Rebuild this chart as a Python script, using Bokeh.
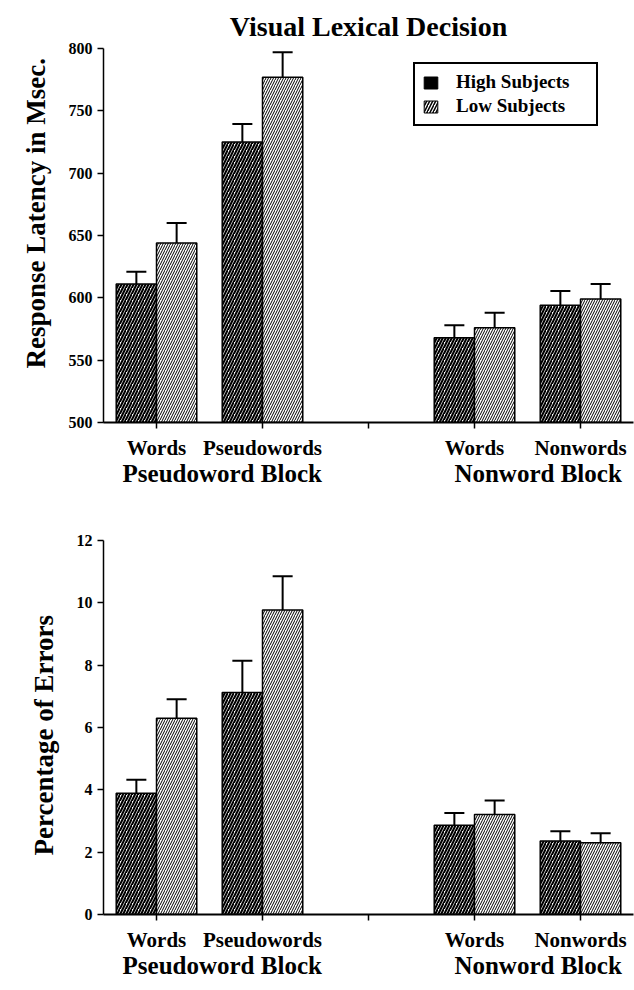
import numpy as np
from bokeh.plotting import figure
from bokeh.layouts import column
from bokeh.models import (ColumnDataSource, FixedTicker, LinearAxis, Whisker, TeeHead,
                          Legend, LegendItem, Title, Range1d)
from bokeh.embed import file_html
from bokeh.resources import INLINE

# ---------------- data ----------------
categories = ["Words", "Pseudowords", "Words", "Nonwords"]
slot_index = [0, 1, 3, 4]          # slot 2 is the empty gap between blocks
blocks = ["Pseudoword Block", "Nonword Block"]
series = ["High Subjects", "Low Subjects"]

rt_high = [611, 725, 568, 594]
rt_high_err = [10, 14.5, 10, 11.5]
rt_low = [644, 777, 576, 599]
rt_low_err = [16, 20, 12, 12]

pe_high = [3.89, 7.12, 2.86, 2.36]
pe_high_err = [0.43, 1.02, 0.40, 0.31]
pe_low = [6.30, 9.77, 3.21, 2.30]
pe_low_err = [0.61, 1.08, 0.45, 0.31]

rt_ticks = [500, 550, 600, 650, 700, 750, 800]
pe_ticks = [0, 2, 4, 6, 8, 10, 12]

# ---------------- styling ----------------
FONT = "Liberation Serif"
BAR_W = 0.38
N_SLOTS = 5
block_label_pos = [1.12, 4.1]


def style_bars(r, dark):
    g = r.glyph
    g.fill_color = "white"
    g.line_color = "black"
    g.line_width = 1.5
    g.hatch_pattern = "/"
    g.hatch_color = "black"
    g.hatch_scale = 6 if dark else 5
    g.hatch_weight = 2.1 if dark else 1.0


def make_panel(high, high_err, low, low_err, y0, y1, yticks, ylabel, ylabel_offset,
               border_top, border_bottom, title=None, legend=False):
    p = figure(frame_width=530, frame_height=374,
               x_range=Range1d(0, N_SLOTS), y_range=Range1d(y0, y1),
               min_border_left=103, min_border_right=1,
               min_border_top=border_top, min_border_bottom=border_bottom,
               output_backend="svg", toolbar_location=None)
    p.outline_line_color = None
    p.xgrid.visible = False
    p.ygrid.visible = False

    centers = [i + 0.5 for i in slot_index]
    xh = [c - BAR_W / 2 for c in centers]
    xl = [c + BAR_W / 2 for c in centers]
    src_h = ColumnDataSource(dict(x=xh, top=high, up=[t + e for t, e in zip(high, high_err)]))
    src_l = ColumnDataSource(dict(x=xl, top=low, up=[t + e for t, e in zip(low, low_err)]))

    rh = p.vbar(x="x", top="top", bottom=y0, width=BAR_W, source=src_h)
    rl = p.vbar(x="x", top="top", bottom=y0, width=BAR_W, source=src_l)
    style_bars(rh, True)
    style_bars(rl, False)

    for s in (src_h, src_l):
        w = Whisker(source=s, base="x", lower="top", upper="up", dimension="height",
                    line_color="black", line_width=2, lower_head=None,
                    upper_head=TeeHead(size=20, line_color="black", line_width=2))
        p.add_layout(w)

    # y axis
    ya = p.yaxis[0]
    ya.ticker = FixedTicker(ticks=yticks)
    ya.minor_tick_line_color = None
    ya.major_tick_in = 0
    ya.major_tick_out = 6
    ya.major_tick_line_width = 1.5
    ya.axis_line_width = 1.5
    ya.major_label_text_font = FONT
    ya.major_label_text_font_style = "bold"
    ya.major_label_text_font_size = "16px"
    ya.major_label_text_color = "black"
    ya.major_label_standoff = 5

    # x axis: category ticks
    all_ticks = [i + 0.5 for i in range(N_SLOTS)]
    overrides = {t: "" for t in all_ticks}
    for name, idx in zip(categories, slot_index):
        overrides[idx + 0.5] = name
    xa = p.xaxis[0]
    xa.ticker = FixedTicker(ticks=all_ticks)
    xa.major_label_overrides = overrides
    xa.minor_tick_line_color = None
    xa.major_tick_in = 0
    xa.major_tick_out = 6
    xa.major_tick_line_width = 1.5
    xa.axis_line_width = 2
    xa.major_label_text_font = FONT
    xa.major_label_text_font_style = "bold"
    xa.major_label_text_font_size = "21px"
    xa.major_label_text_color = "black"
    xa.major_label_standoff = 7

    # x axis: block labels
    ga = LinearAxis(ticker=FixedTicker(ticks=block_label_pos),
                    major_label_overrides={t: b for t, b in zip(block_label_pos, blocks)},
                    axis_line_color=None, major_tick_line_color=None,
                    minor_tick_line_color=None, major_label_standoff=-9,
                    major_label_text_font=FONT, major_label_text_font_style="bold",
                    major_label_text_font_size="25px", major_label_text_color="black")
    p.add_layout(ga, "below")

    # vertical axis title, placed in the left panel (anchored from the bottom)
    p.add_layout(Title(text=ylabel, align="left", offset=ylabel_offset, standoff=30,
                       text_font=FONT, text_font_style="bold", text_font_size="27px",
                       text_color="black"), "left")

    if title:
        p.title.text = title
        p.title.align = "center"
        p.title.text_font = FONT
        p.title.text_font_style = "bold"
        p.title.text_font_size = "28px"
        p.title.text_color = "black"
        p.title.standoff = 13

    if legend:
        # off-range proxy bars used only for the legend swatches
        dh = p.vbar(x=[-5], top=[y0], bottom=y0, width=0.1, fill_color="black", line_color="black")
        dl = p.vbar(x=[-5], top=[y0], bottom=y0, width=0.1, fill_color="white", line_color="black",
                    hatch_pattern="/", hatch_color="black", hatch_scale=6, hatch_weight=1.5)
        lg = Legend(items=[LegendItem(label=series[0], renderers=[dh]),
                           LegendItem(label=series[1], renderers=[dl])],
                    location=(310, 296), border_line_color="black", border_line_width=2,
                    border_line_alpha=1.0,
                    label_text_font=FONT, label_text_font_style="bold",
                    label_text_font_size="19px", label_text_color="black",
                    glyph_width=17, glyph_height=15, label_standoff=17,
                    label_width=133, label_height=21,
                    padding=7, spacing=2, margin=0, background_fill_color="white",
                    background_fill_alpha=1.0)
        p.add_layout(lg)
    return p


p1 = make_panel(rt_high, rt_high_err, rt_low, rt_low_err, 500, 800, rt_ticks,
                "Response Latency in Msec.", 54, 48, 73,
                title="Visual Lexical Decision", legend=True)
p2 = make_panel(pe_high, pe_high_err, pe_low, pe_low_err, 0, 12, pe_ticks,
                "Percentage of Errors", 59, 45, 76)

layout = column(p1, p2, spacing=0)
open("out.html", "w").write(file_html(layout, INLINE))
